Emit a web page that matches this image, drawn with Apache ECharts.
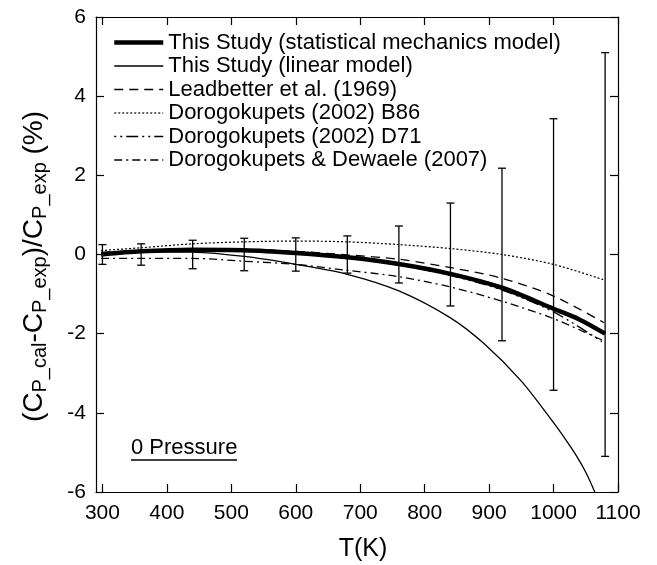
<!DOCTYPE html>
<html>
<head>
<meta charset="utf-8">
<script src="https://cdn.jsdelivr.net/npm/echarts@6/dist/echarts.min.js"></script>
<style>
html,body{margin:0;padding:0;background:#fff;}
#c{width:657px;height:565px;}
</style>
</head>
<body>
<div id="c"></div>
<script>
// ---- Data ----
var xTicks = [300, 400, 500, 600, 700, 800, 900, 1000, 1100];
var yTicks = [-6, -4, -2, 0, 2, 4, 6];

var statT = [298, 360, 440, 520, 600, 680, 760, 840, 920, 1000, 1040, 1080];
var statV = [0.0, 0.08, 0.12, 0.11, 0.04, -0.07, -0.24, -0.49, -0.84, -1.37, -1.64, -2.0];

var linT = [298, 360, 440, 520, 600, 680, 760, 840, 892, 950, 1000, 1018, 1036, 1050, 1064];
var linV = [0.0, 0.07, 0.06, -0.05, -0.25, -0.5, -0.92, -1.6, -2.25, -3.2, -4.25, -4.66, -5.1, -5.5, -6.0];

var leadT = [298, 360, 440, 520, 600, 680, 760, 840, 920, 1000, 1078];
var leadV = [0.05, 0.1, 0.12, 0.12, 0.08, -0.01, -0.12, -0.33, -0.6, -1.05, -1.72];

var b86T = [298, 360, 440, 520, 600, 680, 760, 840, 920, 1000, 1078];
var b86V = [0.1, 0.17, 0.27, 0.32, 0.34, 0.32, 0.25, 0.15, 0.0, -0.25, -0.64];

var d71T = [298, 360, 440, 520, 600, 680, 760, 840, 920, 1000, 1075];
var d71V = [0.0, 0.08, 0.11, 0.1, 0.03, -0.09, -0.27, -0.53, -0.9, -1.45, -2.2];

var ddT = [298, 360, 440, 520, 600, 680, 760, 840, 920, 1000, 1075];
var ddV = [-0.1, -0.1, -0.1, -0.17, -0.25, -0.4, -0.56, -0.82, -1.18, -1.62, -2.16];

var errT = [300, 360, 440, 520, 600, 680, 760, 840, 920, 1000, 1080];
var errCenter = [0, 0, 0, 0, 0, 0, 0, 0, 0, 0, 0];
var errHalf = [0.25, 0.27, 0.36, 0.41, 0.42, 0.47, 0.72, 1.3, 2.18, 3.43, 5.1];

var names = [
  'This Study (statistical mechanics model)',
  'This Study (linear model)',
  'Leadbetter et al. (1969)',
  'Dorogokupets (2002) B86',
  'Dorogokupets (2002) D71',
  'Dorogokupets & Dewaele (2007)'
];

// ---- build ----
function pairs(xs, ys) { return xs.map(function (x, i) { return [x, ys[i]]; }); }
var FONT = '"Liberation Sans", Arial, sans-serif';
var styles = [
  {width: 4.5, type: 'solid'},
  {width: 1.3, type: 'solid'},
  {width: 1.3, type: [9, 6]},
  {width: 1.2, type: [2, 2]},
  {width: 1.3, type: [2, 4, 2, 4, 12, 4]},
  {width: 1.3, type: [8, 4, 2, 4]}
];
var lineData = [pairs(statT, statV), pairs(linT, linV), pairs(leadT, leadV), pairs(b86T, b86V), pairs(d71T, d71V), pairs(ddT, ddV)];

var series = names.map(function (n, i) {
  return {
    name: n, type: 'line', data: lineData[i], smooth: 0.3, symbol: 'none',
    xAxisIndex: 0, yAxisIndex: 0,
    lineStyle: {color: '#000', width: styles[i].width, type: styles[i].type},
    itemStyle: {color: '#000'},
    z: i === 0 ? 5 : 4, silent: true, animation: false
  };
});
series.push({
  name: 'err', type: 'custom', xAxisIndex: 0, yAxisIndex: 0,
  data: errT.map(function (t, i) { return [t, errCenter[i], errHalf[i]]; }),
  renderItem: function (params, api) {
    var x = api.value(0), c = api.value(1), e = api.value(2);
    var top = api.coord([x, c + e]);
    var bot = api.coord([x, c - e]);
    var w = 4;
    var st = {stroke: '#000', lineWidth: 1.3};
    return {type: 'group', children: [
      {type: 'line', shape: {x1: top[0], y1: top[1], x2: bot[0], y2: bot[1]}, style: st},
      {type: 'line', shape: {x1: top[0] - w, y1: top[1], x2: top[0] + w, y2: top[1]}, style: st},
      {type: 'line', shape: {x1: bot[0] - w, y1: bot[1], x2: bot[0] + w, y2: bot[1]}, style: st}
    ]};
  },
  silent: true, animation: false, z: 3
});

var axisCommon = {
  min: 290, max: 1100,
  axisLine: {show: true, onZero: false, lineStyle: {color: '#000', width: 1.2}},
  splitLine: {show: false}
};
function plain(v) { return String(v); }

var chart = echarts.init(document.getElementById('c'), null, {renderer: 'canvas'});
chart.setOption({
  animation: false,
  backgroundColor: '#fff',
  grid: {left: 96, right: 39, top: 17, bottom: 73, containLabel: false, outerBoundsMode: 'none'},
  legend: {
    orient: 'vertical', left: 112, top: 31.5, padding: 0,
    itemWidth: 49, itemHeight: 20, itemGap: 1.5,
    selectedMode: false,
    textStyle: {fontFamily: FONT, fontSize: 22, color: '#000', lineHeight: 20},
    data: names.map(function (n, i) {
      return {
        name: n,
        itemStyle: {color: 'rgba(0,0,0,0)', borderWidth: 0, opacity: 0},
        lineStyle: {color: '#000', width: styles[i].width, type: styles[i].type, opacity: 1}
      };
    })
  },
  xAxis: [
    Object.assign({}, axisCommon, {
      type: 'value', position: 'bottom',
      name: 'T(K)', nameLocation: 'middle', nameGap: 45,
      nameTextStyle: {fontFamily: FONT, fontSize: 25, color: '#000', padding: [0, 0, 0, 12]},
      axisTick: {show: true, inside: true, length: 8, customValues: xTicks, lineStyle: {color: '#000', width: 1.2}},
      axisLabel: {show: true, customValues: xTicks, formatter: plain, margin: 11, fontFamily: FONT, fontSize: 21, color: '#000'}
    }),
    Object.assign({}, axisCommon, {
      type: 'value', position: 'top',
      axisTick: {show: true, inside: true, length: 8, customValues: xTicks, lineStyle: {color: '#000', width: 1.2}},
      axisLabel: {show: false}
    })
  ],
  yAxis: [
    {
      type: 'value', min: -6, max: 6, interval: 2, position: 'left',
      axisLine: {show: true, onZero: false, lineStyle: {color: '#000', width: 1.2}},
      splitLine: {show: false},
      axisTick: {show: true, inside: true, length: 8, lineStyle: {color: '#000', width: 1.2}},
      axisLabel: {margin: 10, formatter: plain, fontFamily: FONT, fontSize: 21, color: '#000'},
      name: '{m|(C}{s|P_cal}{m|-C}{s|P_exp}{m|)/C}{s|P_exp}{m| (%)}',
      nameLocation: 'middle', nameRotate: 90, nameGap: 46,
      nameTextStyle: {
        padding: [0, 24, 0, 0],
        rich: {
          m: {fontFamily: FONT, fontSize: 28, color: '#000', lineHeight: 32},
          s: {fontFamily: FONT, fontSize: 20, color: '#000', lineHeight: 14, verticalAlign: 'bottom'}
        }
      }
    },
    {
      type: 'value', min: -6, max: 6, interval: 2, position: 'right',
      axisLine: {show: true, onZero: false, lineStyle: {color: '#000', width: 1.2}},
      splitLine: {show: false},
      axisTick: {show: true, inside: true, length: 8, lineStyle: {color: '#000', width: 1.2}},
      axisLabel: {show: false}
    }
  ],
  graphic: [
    {type: 'text', left: 131, top: 437, style: {text: '0 Pressure', font: '22px ' + FONT, fill: '#000'}},
    {type: 'line', shape: {x1: 131, y1: 460, x2: 237, y2: 460}, style: {stroke: '#000', lineWidth: 1.3}}
  ],
  series: series
});
</script>
</body>
</html>
